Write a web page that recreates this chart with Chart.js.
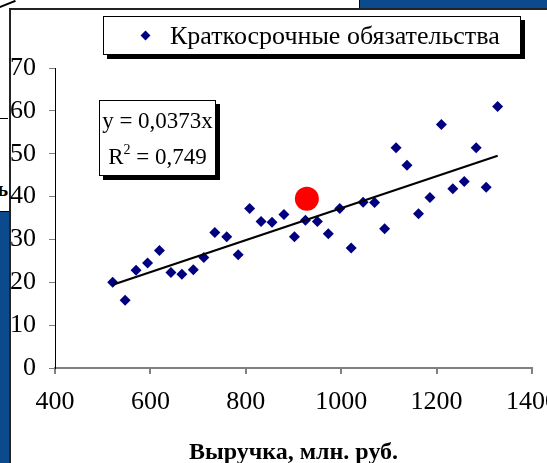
<!DOCTYPE html>
<html>
<head>
<meta charset="utf-8">
<script src="https://cdn.jsdelivr.net/npm/chart.js@4.4.1/dist/chart.umd.min.js"></script>
<style>
  html, body { margin: 0; padding: 0; }
  body { width: 547px; height: 463px; overflow: hidden; position: relative; background: #fff;
         font-family: "Liberation Serif", "Times New Roman", serif; }
  .abs { position: absolute; }
  #bgChartBox { left: 0; top: -30px; width: 360px; height: 40px; z-index: 1; }
  #bgEdge { left: 359px; top: 0; width: 1px; height: 9px; background: #000; z-index: 2; }
  #blueTop { left: 360px; top: 0; width: 187px; height: 8px; background: #0b4a8c; z-index: 2; }
  #blueLeft { left: 0; top: 212px; width: 9px; height: 251px; background: #0b4a8c; z-index: 2; }
  #lineLeft1 { left: 0; top: 118px; width: 8px; height: 1px; background: #000; z-index: 2; }
  #lineLeft2 { left: 0; top: 211px; width: 9px; height: 1px; background: #000; z-index: 2; }
  #softSign { right: 539px; top: 178px; font-weight: bold; font-size: 20px; z-index: 2; }
  #diag { left: -1px; top: 3px; width: 17px; height: 1.5px; background: #000; transform: rotate(-22deg); z-index: 2; }
  #panel { left: 9px; top: 8px; width: 560px; height: 480px; background: #fff;
           border-left: 2px solid #222; border-top: 2px solid #222; z-index: 3; }
  #main { left: 0; top: 0; z-index: 4; }
  .box { position: absolute; background: #fff; border: 1px solid #000; box-shadow: 4px 4px 0 #000; z-index: 5; }
  #legend { left: 103px; top: 16px; width: 416px; height: 37px; font-size: 26px; line-height: 37px; white-space: nowrap; }
  #legend .mark { position: absolute; left: 38px; top: 15px; width: 7px; height: 7px; background: #000080; transform: rotate(45deg); }
  #legend .txt { position: absolute; left: 66px; top: 0; }
  #eq { left: 99px; top: 100px; width: 117px; height: 76px; font-size: 23px; text-align: center; line-height: 36px; padding-top: 2px; box-sizing: border-box; white-space: nowrap; }
  #eq sup { font-size: 14px; vertical-align: 10px; line-height: 0; }
</style>
</head>
<body>
<div class="abs" id="bgChartBox"><canvas id="bg" width="360" height="40"></canvas></div>
<div class="abs" id="bgEdge"></div>
<div class="abs" id="blueTop"></div>
<div class="abs" id="blueLeft"></div>
<div class="abs" id="lineLeft1"></div>
<div class="abs" id="lineLeft2"></div>
<div class="abs" id="softSign">ь</div>
<div class="abs" id="diag"></div>
<div class="abs" id="panel"></div>
<canvas class="abs" id="main" width="547" height="463"></canvas>
<div class="box" id="legend"><span class="mark"></span><span class="txt"></span></div>
<div class="box" id="eq"></div>

<script>
// ── Data ──────────────────────────────────────────────────────────────────────
const seriesName  = "Краткосрочные обязательства";
const axisTitle   = "Выручка, млн. руб.";
const revenue     = [521, 547, 570, 594, 619, 643, 666, 690, 712, 735, 760, 784,
                     808, 832, 855, 880, 902, 925, 950, 973, 997, 1021, 1046, 1070,
                     1091, 1115, 1138, 1162, 1186, 1210, 1234, 1258, 1283, 1304, 1328];
const liabilities = [20.0, 15.8, 22.8, 24.5, 27.4, 22.3, 21.9, 22.9, 25.8, 31.6, 30.6, 26.4,
                     37.2, 34.2, 34.0, 35.8, 30.6, 34.5, 34.2, 31.3, 37.2, 28.0, 38.7, 38.6,
                     32.5, 51.4, 47.3, 36.0, 39.8, 56.8, 41.8, 43.5, 51.4, 42.2, 61.0];
const markedX     = [928];
const markedY     = [39.5];
const slope       = 0.0373;
const rSquared    = "0,749";
const xTickRange  = [400, 1400, 200];
const yTickRange  = [0, 70, 10];

// chart sitting behind, only its lowest markers show
const backX = [115, 149, 173, 183];
const backY = [31, 27, 32, 23];

const NAVY  = "#000080";
const FONT  = "'Liberation Serif', 'Times New Roman', serif";

// ── Front chart ───────────────────────────────────────────────────────────────
const points = revenue.map((x, i) => ({ x, y: liabilities[i] }));
const xMin = Math.min(...revenue), xMax = Math.max(...revenue);
const trend = [xMin, xMax].map(x => ({ x, y: slope * x }));

new Chart(document.getElementById("main"), {
  type: "scatter",
  data: {
    datasets: [
      { label: "trend", type: "line", data: trend, borderColor: "#000", borderWidth: 2.2,
        pointRadius: 0, fill: false, order: 0 },
      { label: "marked", data: markedX.map((x, i) => ({ x, y: markedY[i] })),
        backgroundColor: "#ff0000", borderWidth: 0, pointRadius: 12, order: 1 },
      { label: seriesName, data: points, pointStyle: "rectRot", pointRadius: 5.5,
        backgroundColor: NAVY, borderColor: NAVY, borderWidth: 0, order: 2 },
    ]
  },
  options: {
    responsive: false, animation: false, devicePixelRatio: 1,
    layout: { padding: { top: 68, right: 15, left: 0, bottom: 0 } },
    plugins: { legend: { display: false }, tooltip: { enabled: false } },
    scales: {
      x: {
        type: "linear", min: xTickRange[0], max: xTickRange[1],
        ticks: { stepSize: xTickRange[2], color: "#000", padding: 13, maxRotation: 0,
                 font: { family: FONT, size: 26 }, callback: v => String(v) },
        grid: { drawOnChartArea: false, drawTicks: true, tickLength: 6, color: "#808080", lineWidth: 2 },
        border: { display: true, color: "#808080", width: 2 },
        title: { display: true, text: axisTitle, color: "#000", padding: { top: 0, bottom: -4 },
                 font: { family: FONT, size: 24, weight: "bold" } },
        afterFit: s => { s.height = 95; s.paddingLeft = 0; s.paddingRight = 0; }
      },
      y: {
        min: yTickRange[0], max: yTickRange[1],
        ticks: { stepSize: yTickRange[2], color: "#000", padding: 13,
                 font: { family: FONT, size: 26 } },
        grid: { drawOnChartArea: false, drawTicks: true, tickLength: 6, color: "#808080" },
        border: { display: true, color: "#000", width: 1 },
        afterFit: s => { s.width = 55; s.paddingTop = 0; s.paddingBottom = 0; }
      }
    }
  }
});

// ── Background chart fragment ────────────────────────────────────────────────
new Chart(document.getElementById("bg"), {
  type: "scatter",
  data: { datasets: [{ data: backX.map((x, i) => ({ x, y: backY[i] })), pointStyle: "rectRot",
                       pointRadius: 5.5, backgroundColor: NAVY, borderWidth: 0 }] },
  options: {
    responsive: false, animation: false, devicePixelRatio: 1,
    layout: { padding: 0 },
    plugins: { legend: { display: false }, tooltip: { enabled: false } },
    scales: { x: { display: false, min: 0, max: 360 }, y: { display: false, min: 0, max: 40 } }
  }
});

// ── Legend and regression label ───────────────────────────────────────────────
document.querySelector("#legend .txt").textContent = seriesName;
document.getElementById("eq").innerHTML =
  `y = ${String(slope).replace(".", ",")}x<br>R<sup>2</sup> = ${rSquared}`;
</script>
</body>
</html>
